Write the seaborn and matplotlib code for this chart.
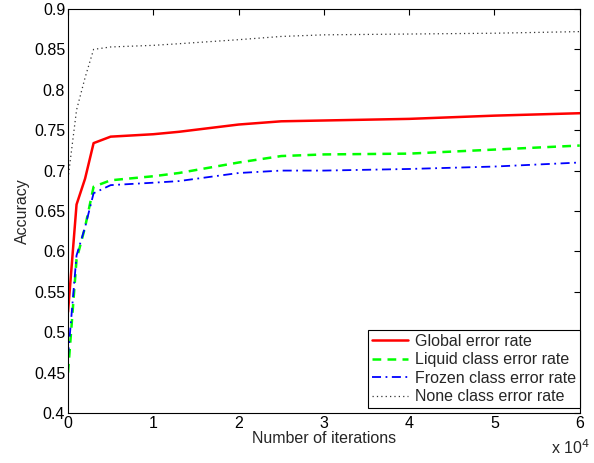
import numpy as np
import pandas as pd
import matplotlib
matplotlib.use("Agg")
import matplotlib.pyplot as plt
import seaborn as sns
from matplotlib.ticker import FuncFormatter

# -------------------------
# DATA
# -------------------------
iters = [0, 1000, 2000, 3000, 5000, 10000, 13000, 20000, 25000, 30000, 40000, 50000, 60000]
global_acc = [0.525, 0.658, 0.690, 0.734, 0.742, 0.745, 0.748, 0.757, 0.761, 0.762, 0.764, 0.768, 0.771]
liquid_acc = [0.450, 0.590, 0.630, 0.680, 0.688, 0.693, 0.697, 0.710, 0.718, 0.720, 0.721, 0.726, 0.731]
frozen_acc = [0.470, 0.595, 0.630, 0.672, 0.682, 0.685, 0.687, 0.697, 0.700, 0.700, 0.702, 0.705, 0.710]
none_acc = [0.690, 0.775, 0.815, 0.850, 0.853, 0.855, 0.857, 0.862, 0.866, 0.868, 0.869, 0.870, 0.872]

labels = ["Global error rate", "Liquid class error rate",
          "Frozen class error rate", "None class error rate"]

rows = []
for name, vals in zip(labels, [global_acc, liquid_acc, frozen_acc, none_acc]):
    for x, v in zip(iters, vals):
        rows.append({"iter": x, "acc": v, "series": name})
df = pd.DataFrame(rows)

# -------------------------
# PLOT
# -------------------------
sns.set_theme(style="white")
plt.rcParams["font.family"] = ["Liberation Sans", "DejaVu Sans"]
FS = 11.5

fig = plt.figure(figsize=(5.94, 4.63), dpi=100)
ax = fig.add_axes([0.1145, 0.108, 0.8615, 0.8726])

colors = {labels[0]: "#ff0000", labels[1]: "#00ff00",
          labels[2]: "#0000ff", labels[3]: "#333333"}
styles = {labels[0]: "-", labels[1]: (0, (3.5, 2.5)), labels[2]: (0, (5, 2.5, 1, 2.5)),
          labels[3]: (0, (1, 2.5))}
widths = {labels[0]: 1.8, labels[1]: 1.8, labels[2]: 1.3, labels[3]: 0.9}

for name in labels:
    sub = df[df["series"] == name]
    sns.lineplot(data=sub, x="iter", y="acc", ax=ax, color=colors[name],
                 linestyle=styles[name], linewidth=widths[name], label=name)

ax.set_xlim(0, 60000)
ax.set_ylim(0.4, 0.9)
ax.set_xticks(np.arange(0, 60001, 10000))
ax.set_yticks(np.arange(0.4, 0.9001, 0.05))
ax.xaxis.set_major_formatter(FuncFormatter(lambda v, p: f"{v/1e4:g}"))
ax.yaxis.set_major_formatter(FuncFormatter(lambda v, p: f"{v:.2f}".rstrip("0").rstrip(".")))
ax.tick_params(direction="in", top=True, right=True, length=4, width=0.8,
               labelsize=FS, colors="black", pad=2)
for s in ax.spines.values():
    s.set_color("black")
    s.set_linewidth(0.8)

ax.set_xlabel("Number of iterations", fontsize=FS, labelpad=0)
ax.set_ylabel("Accuracy", fontsize=FS, labelpad=3)
fig.text(0.96, 0.012, "x 10$^4$", fontsize=FS, ha="center", va="bottom")

leg = ax.legend(loc="lower right", bbox_to_anchor=(1.0, 0.012), fontsize=FS,
                frameon=True, fancybox=False, framealpha=1, edgecolor="black",
                borderaxespad=0, handlelength=2.3, labelspacing=0.22,
                borderpad=0.25, handletextpad=0.4)
leg.get_frame().set_linewidth(0.8)

plt.savefig("out.png", dpi=100)
